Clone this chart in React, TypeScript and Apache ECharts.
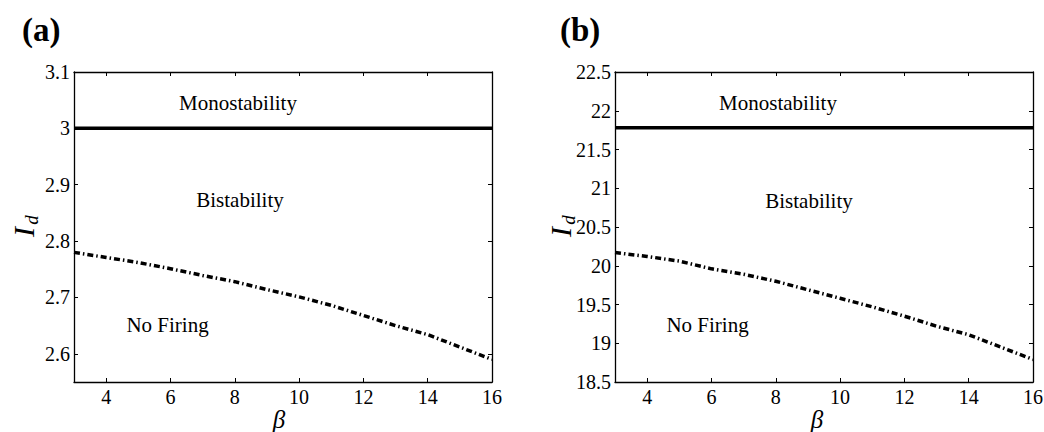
import React, { useEffect, useRef } from 'react';
import * as echarts from 'echarts';

// ---- data ----
const beta = [3, 4, 5, 6, 7, 8, 9, 10, 11, 12, 13, 14, 15, 16];
const noFiringBoundaryA = [2.780, 2.771, 2.762, 2.751, 2.739, 2.728, 2.714, 2.701, 2.686, 2.668, 2.650, 2.634, 2.612, 2.590];
const monostabilityBoundaryA = 3.0;
const noFiringBoundaryB = [20.17, 20.12, 20.06, 19.96, 19.89, 19.80, 19.69, 19.58, 19.47, 19.35, 19.22, 19.11, 18.95, 18.79];
const monostabilityBoundaryB = 21.78;

const xMin = 3;
const xMax = 16;
const xStep = 2;
const yMinA = 2.55;
const yMaxA = 3.1;
const yStepA = 0.1;
const yMinB = 18.5;
const yMaxB = 22.5;
const yStepB = 0.5;

const panelTitles = ['(a)', '(b)'];
const regionLabels = ['Monostability', 'Bistability', 'No Firing'];

const serif = 'Liberation Serif';

const axisLine = { show: true, lineStyle: { color: '#000', width: 1.3 } };
const axisTick = { show: true, inside: true, length: 4, lineStyle: { color: '#000', width: 1 } };

function fmt(v: number) {
  return String(Math.round(v * 1000) / 1000);
}

function xAxes(gridIndex: number) {
  const base = {
    type: 'value',
    gridIndex,
    min: xMin,
    max: xMax,
    minInterval: xStep,
    maxInterval: xStep,
    axisLine,
    axisTick,
    splitLine: { show: false },
  };
  return [
    {
      ...base,
      position: 'bottom',
      axisLabel: {
        show: true,
        color: '#000',
        fontSize: 20,
        fontFamily: serif,
        margin: 5,
        formatter: (v: number) => (Math.abs(v - xMin) < 1e-9 ? '' : fmt(v)),
      },
    },
    { ...base, position: 'top', axisLabel: { show: false } },
  ];
}

function yAxes(gridIndex: number, min: number, max: number, step: number, useInterval: boolean) {
  const base: any = {
    type: 'value',
    gridIndex,
    min,
    max,
    axisLine,
    axisTick,
    splitLine: { show: false },
  };
  if (useInterval) base.interval = step;
  else {
    base.minInterval = step;
    base.maxInterval = step;
  }
  return [
    {
      ...base,
      position: 'left',
      axisLabel: {
        show: true,
        color: '#000',
        fontSize: 20,
        fontFamily: serif,
        margin: 4,
        formatter: (v: number) =>
          !useInterval && Math.abs(v - min) < 1e-9 ? '' : fmt(v),
      },
    },
    { ...base, position: 'right', axisLabel: { show: false } },
  ];
}

function text(x: number, y: number, str: string, style: any, extra: any = {}) {
  return {
    type: 'text',
    x,
    y,
    silent: true,
    ...extra,
    style: { text: str, fill: '#000', fontFamily: serif, align: 'center', verticalAlign: 'middle', ...style },
  };
}

export default function App() {
  const ref = useRef<HTMLDivElement>(null);

  useEffect(() => {
    if (!ref.current) return;
    const chart = echarts.init(ref.current, null, { renderer: 'svg' });

    const dashDot = { color: '#000', width: 3.5, type: [6, 3, 1.5, 3] };
    const solid = { color: '#000', width: 3.5 };

    const option: any = {
      animation: false,
      backgroundColor: '#fff',
      textStyle: { fontFamily: serif },
      grid: [
        { left: 74, top: 72, width: 418, height: 310, containLabel: false, outerBoundsMode: 'none' },
        { left: 615, top: 72, width: 418, height: 310, containLabel: false, outerBoundsMode: 'none' },
      ],
      xAxis: [...xAxes(0), ...xAxes(1)],
      yAxis: [
        ...yAxes(0, yMinA, yMaxA, yStepA, false),
        ...yAxes(1, yMinB, yMaxB, yStepB, true),
      ],
      series: [
        {
          type: 'line',
          xAxisIndex: 0,
          yAxisIndex: 0,
          data: [[xMin, monostabilityBoundaryA], [xMax, monostabilityBoundaryA]],
          symbol: 'none',
          lineStyle: solid,
          silent: true,
        },
        {
          type: 'line',
          xAxisIndex: 0,
          yAxisIndex: 0,
          data: beta.map((b, i) => [b, noFiringBoundaryA[i]]),
          symbol: 'none',
          lineStyle: dashDot,
          silent: true,
        },
        {
          type: 'line',
          xAxisIndex: 2,
          yAxisIndex: 2,
          data: [[xMin, monostabilityBoundaryB], [xMax, monostabilityBoundaryB]],
          symbol: 'none',
          lineStyle: solid,
          silent: true,
        },
        {
          type: 'line',
          xAxisIndex: 2,
          yAxisIndex: 2,
          data: beta.map((b, i) => [b, noFiringBoundaryB[i]]),
          symbol: 'none',
          lineStyle: dashDot,
          silent: true,
        },
      ],
      graphic: [
        text(22, 13, panelTitles[0], { fontSize: 33, fontWeight: 'bold', align: 'left', verticalAlign: 'top' }),
        text(560, 13, panelTitles[1], { fontSize: 33, fontWeight: 'bold', align: 'left', verticalAlign: 'top' }),

        text(238, 103, regionLabels[0], { fontSize: 21 }),
        text(240, 200, regionLabels[1], { fontSize: 21 }),
        text(167.5, 324.5, regionLabels[2], { fontSize: 21 }),

        text(778, 103, regionLabels[0], { fontSize: 21 }),
        text(809, 201, regionLabels[1], { fontSize: 21 }),
        text(707.5, 324.5, regionLabels[2], { fontSize: 21 }),

        text(279, 419, 'β', { fontSize: 25, fontStyle: 'italic' }),
        text(817, 419, 'β', { fontSize: 25, fontStyle: 'italic' }),

        text(23, 232, 'I', { fontSize: 30, fontStyle: 'italic' }, { rotation: Math.PI / 2 }),
        text(31, 220, 'd', { fontSize: 19, fontStyle: 'italic' }, { rotation: Math.PI / 2 }),
        text(560, 232, 'I', { fontSize: 30, fontStyle: 'italic' }, { rotation: Math.PI / 2 }),
        text(568, 220, 'd', { fontSize: 19, fontStyle: 'italic' }, { rotation: Math.PI / 2 }),
      ],
    };

    chart.setOption(option);
    return () => chart.dispose();
  }, []);

  return (
    <div
      ref={ref}
      style={{ position: 'fixed', left: 0, top: 0, width: 1044, height: 432, background: '#fff' }}
    />
  );
}
